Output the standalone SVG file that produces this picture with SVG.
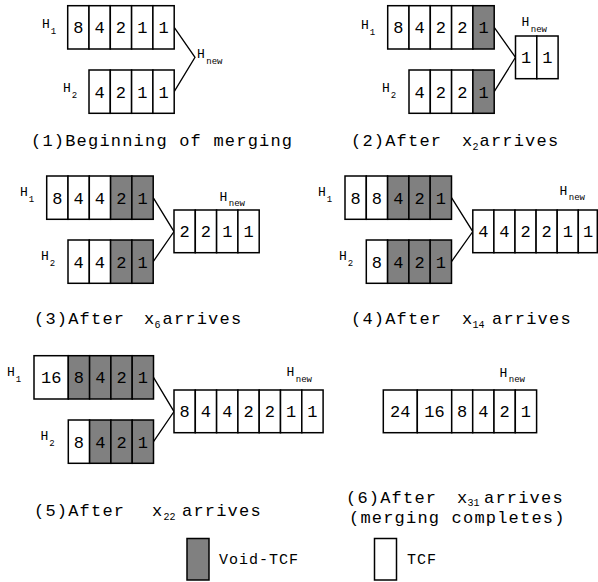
<svg xmlns="http://www.w3.org/2000/svg" width="598" height="582" viewBox="0 0 598 582">
<style>
.c{fill:#fff;stroke:#000;stroke-width:1.5}
.g{fill:#808080;stroke:#000;stroke-width:1.5}
text{font-family:"Liberation Mono","DejaVu Sans Mono",monospace;fill:#000}
.t{font-size:17px;text-anchor:middle}
.h{font-size:13px}
.s{font-size:9px}
.cap{font-size:17px;letter-spacing:1.2px}
.x{letter-spacing:0}
.cs{font-size:10px;letter-spacing:0}
.lg{font-size:15px;letter-spacing:1px}
.con{fill:none;stroke:#000;stroke-width:1.3}
</style>
<rect width="598" height="582" fill="#fff"/>

<g id="connectors">
<path class="con" d="M174.2,27.4 L195,57.3 L174.2,91.6"/>
<path class="con" d="M494.2,27.4 L515.5,57.3 L494.2,91.6"/>
<path class="con" d="M153.2,197.6 L174,231.6 L153.2,261.6"/>
<path class="con" d="M451.5,197.6 L472.8,231.6 L451.5,261.6"/>
<path class="con" d="M153.5,377.3 L174,411.6 L153.5,441.6"/>
</g>

<!-- Panel 1 -->
<g id="p1-h1">
<rect class="c" x="67.7" y="5.7" width="21.3" height="43.3"/>
<rect class="c" x="89" y="5.7" width="21.3" height="43.3"/>
<rect class="c" x="110.3" y="5.7" width="21.3" height="43.3"/>
<rect class="c" x="131.6" y="5.7" width="21.3" height="43.3"/>
<rect class="c" x="152.9" y="5.7" width="21.3" height="43.3"/>
<text class="t" x="78.35" y="33.3">8</text><text class="t" x="99.65" y="33.3">4</text><text class="t" x="120.95" y="33.3">2</text><text class="t" x="142.25" y="33.3">1</text><text class="t" x="163.55" y="33.3">1</text>
<text class="h" x="42" y="28">H<tspan class="s" dx="1" dy="6">1</tspan></text>
</g>
<g id="p1-h2">
<rect class="c" x="89" y="70" width="21.3" height="43.3"/>
<rect class="c" x="110.3" y="70" width="21.3" height="43.3"/>
<rect class="c" x="131.6" y="70" width="21.3" height="43.3"/>
<rect class="c" x="152.9" y="70" width="21.3" height="43.3"/>
<text class="t" x="99.65" y="97.6">4</text><text class="t" x="120.95" y="97.6">2</text><text class="t" x="142.25" y="97.6">1</text><text class="t" x="163.55" y="97.6">1</text>
<text class="h" x="63" y="92">H<tspan class="s" dx="1" dy="6">2</tspan></text>
</g>
<g id="p1-hnew">
<text class="h" x="197" y="58">H<tspan class="s" dx="1.5" dy="6">new</tspan></text>
</g>
<g id="cap1"><text class="cap" x="31" y="146">(1)Beginning of merging</text></g>

<!-- Panel 2 -->
<g id="p2-h1">
<rect class="c" x="387.7" y="5.7" width="21.3" height="43.3"/>
<rect class="c" x="409" y="5.7" width="21.3" height="43.3"/>
<rect class="c" x="430.3" y="5.7" width="21.3" height="43.3"/>
<rect class="c" x="451.6" y="5.7" width="21.3" height="43.3"/>
<rect class="g" x="472.9" y="5.7" width="21.3" height="43.3"/>
<text class="t" x="398.35" y="33.3">8</text><text class="t" x="419.65" y="33.3">4</text><text class="t" x="440.95" y="33.3">2</text><text class="t" x="462.25" y="33.3">2</text><text class="t" x="483.55" y="33.3">1</text>
<text class="h" x="361" y="29">H<tspan class="s" dx="1" dy="6">1</tspan></text>
</g>
<g id="p2-h2">
<rect class="c" x="409" y="70" width="21.3" height="43.3"/>
<rect class="c" x="430.3" y="70" width="21.3" height="43.3"/>
<rect class="c" x="451.6" y="70" width="21.3" height="43.3"/>
<rect class="g" x="472.9" y="70" width="21.3" height="43.3"/>
<text class="t" x="419.65" y="97.6">4</text><text class="t" x="440.95" y="97.6">2</text><text class="t" x="462.25" y="97.6">2</text><text class="t" x="483.55" y="97.6">1</text>
<text class="h" x="382" y="92">H<tspan class="s" dx="1" dy="6">2</tspan></text>
</g>
<g id="p2-hnew">
<rect class="c" x="515.5" y="36" width="21.3" height="42.7"/>
<rect class="c" x="536.8" y="36" width="21.3" height="42.7"/>
<text class="t" x="526.15" y="63.4">1</text><text class="t" x="547.45" y="63.4">1</text>
<text class="h" x="521.5" y="26">H<tspan class="s" dx="1.5" dy="6">new</tspan></text>
</g>
<g id="cap2"><text class="cap" y="146"><tspan x="351">(2)After</tspan><tspan class="x" x="462">x</tspan><tspan class="cs" x="472.5" dy="4">2</tspan><tspan x="479.5" dy="-4">arrives</tspan></text></g>

<!-- Panel 3 -->
<g id="p3-h1">
<rect class="c" x="46.7" y="176" width="21.3" height="43.3"/>
<rect class="c" x="68" y="176" width="21.3" height="43.3"/>
<rect class="c" x="89.3" y="176" width="21.3" height="43.3"/>
<rect class="g" x="110.6" y="176" width="21.3" height="43.3"/>
<rect class="g" x="131.9" y="176" width="21.3" height="43.3"/>
<text class="t" x="57.35" y="203.6">8</text><text class="t" x="78.65" y="203.6">4</text><text class="t" x="99.95" y="203.6">4</text><text class="t" x="121.25" y="203.6">2</text><text class="t" x="142.55" y="203.6">1</text>
<text class="h" x="20" y="196">H<tspan class="s" dx="1" dy="6">1</tspan></text>
</g>
<g id="p3-h2">
<rect class="c" x="68" y="240" width="21.3" height="43.3"/>
<rect class="c" x="89.3" y="240" width="21.3" height="43.3"/>
<rect class="g" x="110.6" y="240" width="21.3" height="43.3"/>
<rect class="g" x="131.9" y="240" width="21.3" height="43.3"/>
<text class="t" x="78.65" y="267.6">4</text><text class="t" x="99.95" y="267.6">4</text><text class="t" x="121.25" y="267.6">2</text><text class="t" x="142.55" y="267.6">1</text>
<text class="h" x="41" y="260">H<tspan class="s" dx="1" dy="6">2</tspan></text>
</g>
<g id="p3-hnew">
<rect class="c" x="174" y="210" width="21.3" height="42.7"/>
<rect class="c" x="195.3" y="210" width="21.3" height="42.7"/>
<rect class="c" x="216.6" y="210" width="21.3" height="42.7"/>
<rect class="c" x="237.9" y="210" width="21.3" height="42.7"/>
<text class="t" x="184.65" y="237.4">2</text><text class="t" x="205.95" y="237.4">2</text><text class="t" x="227.25" y="237.4">1</text><text class="t" x="248.55" y="237.4">1</text>
<text class="h" x="219.5" y="201">H<tspan class="s" dx="1.5" dy="5">new</tspan></text>
</g>
<g id="cap3"><text class="cap" y="324"><tspan x="34">(3)After</tspan><tspan class="x" x="144">x</tspan><tspan class="cs" x="154.5" dy="4">6</tspan><tspan x="162.5" dy="-4">arrives</tspan></text></g>

<!-- Panel 4 -->
<g id="p4-h1">
<rect class="c" x="345" y="176" width="21.3" height="43.3"/>
<rect class="c" x="366.3" y="176" width="21.3" height="43.3"/>
<rect class="g" x="387.6" y="176" width="21.3" height="43.3"/>
<rect class="g" x="408.9" y="176" width="21.3" height="43.3"/>
<rect class="g" x="430.2" y="176" width="21.3" height="43.3"/>
<text class="t" x="355.65" y="203.6">8</text><text class="t" x="376.95" y="203.6">8</text><text class="t" x="398.25" y="203.6">4</text><text class="t" x="419.55" y="203.6">2</text><text class="t" x="440.85" y="203.6">1</text>
<text class="h" x="318" y="196">H<tspan class="s" dx="1" dy="6">1</tspan></text>
</g>
<g id="p4-h2">
<rect class="c" x="366.3" y="240" width="21.3" height="43.3"/>
<rect class="g" x="387.6" y="240" width="21.3" height="43.3"/>
<rect class="g" x="408.9" y="240" width="21.3" height="43.3"/>
<rect class="g" x="430.2" y="240" width="21.3" height="43.3"/>
<text class="t" x="376.95" y="267.6">8</text><text class="t" x="398.25" y="267.6">4</text><text class="t" x="419.55" y="267.6">2</text><text class="t" x="440.85" y="267.6">1</text>
<text class="h" x="339" y="260">H<tspan class="s" dx="1" dy="6">2</tspan></text>
</g>
<g id="p4-hnew">
<rect class="c" x="472.8" y="210" width="21.1" height="42.7"/>
<rect class="c" x="493.9" y="210" width="21.1" height="42.7"/>
<rect class="c" x="515" y="210" width="21.1" height="42.7"/>
<rect class="c" x="536.1" y="210" width="21.1" height="42.7"/>
<rect class="c" x="557.2" y="210" width="21.1" height="42.7"/>
<rect class="c" x="578.3" y="210" width="19" height="42.7"/>
<text class="t" x="483.35" y="237.4">4</text><text class="t" x="504.45" y="237.4">4</text><text class="t" x="525.55" y="237.4">2</text><text class="t" x="546.65" y="237.4">2</text><text class="t" x="567.75" y="237.4">1</text><text class="t" x="588" y="237.4">1</text>
<text class="h" x="559.5" y="195">H<tspan class="s" dx="1.5" dy="5">new</tspan></text>
</g>
<g id="cap4"><text class="cap" y="324"><tspan x="351">(4)After</tspan><tspan class="x" x="462">x</tspan><tspan class="cs" x="472.5" dy="4">14</tspan><tspan x="492" dy="-4">arrives</tspan></text></g>

<!-- Panel 5 -->
<g id="p5-h1">
<rect class="c" x="34" y="355.7" width="34.3" height="43.3"/>
<rect class="g" x="68.3" y="355.7" width="21.3" height="43.3"/>
<rect class="g" x="89.6" y="355.7" width="21.3" height="43.3"/>
<rect class="g" x="110.9" y="355.7" width="21.3" height="43.3"/>
<rect class="g" x="132.2" y="355.7" width="21.3" height="43.3"/>
<text class="t" x="51.15" y="383.3">16</text><text class="t" x="78.95" y="383.3">8</text><text class="t" x="100.25" y="383.3">4</text><text class="t" x="121.55" y="383.3">2</text><text class="t" x="142.85" y="383.3">1</text>
<text class="h" x="7" y="376">H<tspan class="s" dx="1" dy="6">1</tspan></text>
</g>
<g id="p5-h2">
<rect class="c" x="68.3" y="420" width="21.3" height="43.3"/>
<rect class="g" x="89.6" y="420" width="21.3" height="43.3"/>
<rect class="g" x="110.9" y="420" width="21.3" height="43.3"/>
<rect class="g" x="132.2" y="420" width="21.3" height="43.3"/>
<text class="t" x="78.95" y="447.6">8</text><text class="t" x="100.25" y="447.6">4</text><text class="t" x="121.55" y="447.6">2</text><text class="t" x="142.85" y="447.6">1</text>
<text class="h" x="40.5" y="440">H<tspan class="s" dx="1" dy="6">2</tspan></text>
</g>
<g id="p5-hnew">
<rect class="c" x="174" y="390" width="21.3" height="42.7"/>
<rect class="c" x="195.3" y="390" width="21.3" height="42.7"/>
<rect class="c" x="216.6" y="390" width="21.3" height="42.7"/>
<rect class="c" x="237.9" y="390" width="21.3" height="42.7"/>
<rect class="c" x="259.2" y="390" width="21.3" height="42.7"/>
<rect class="c" x="280.5" y="390" width="21.3" height="42.7"/>
<rect class="c" x="301.8" y="390" width="21.3" height="42.7"/>
<text class="t" x="184.65" y="417.4">8</text><text class="t" x="205.95" y="417.4">4</text><text class="t" x="227.25" y="417.4">4</text><text class="t" x="248.55" y="417.4">2</text><text class="t" x="269.85" y="417.4">2</text><text class="t" x="291.15" y="417.4">1</text><text class="t" x="312.45" y="417.4">1</text>
<text class="h" x="286.5" y="376">H<tspan class="s" dx="1.5" dy="5.5">new</tspan></text>
</g>
<g id="cap5"><text class="cap" y="516"><tspan x="34">(5)After</tspan><tspan class="x" x="152">x</tspan><tspan class="cs" x="163.5" dy="4">22</tspan><tspan x="182" dy="-4">arrives</tspan></text></g>

<!-- Panel 6 -->
<g id="p6-hnew">
<rect class="c" x="383.3" y="390" width="34" height="42.7"/>
<rect class="c" x="417.3" y="390" width="34.4" height="42.7"/>
<rect class="c" x="451.7" y="390" width="21" height="42.7"/>
<rect class="c" x="472.7" y="390" width="21.3" height="42.7"/>
<rect class="c" x="494" y="390" width="21.3" height="42.7"/>
<rect class="c" x="515.3" y="390" width="21.3" height="42.7"/>
<text class="t" x="400.3" y="417.4">24</text><text class="t" x="434.5" y="417.4">16</text><text class="t" x="462.2" y="417.4">8</text><text class="t" x="483.35" y="417.4">4</text><text class="t" x="504.65" y="417.4">2</text><text class="t" x="525.95" y="417.4">1</text>
<text class="h" x="499.5" y="376.5">H<tspan class="s" dx="1.5" dy="5.5">new</tspan></text>
</g>
<g id="cap6"><text class="cap" y="502.5"><tspan x="346">(6)After</tspan><tspan class="x" x="457">x</tspan><tspan class="cs" x="467.5" dy="3">31</tspan><tspan x="484" dy="-3">arrives</tspan></text><text class="cap" x="349" y="523">(merging completes)</text></g>

<!-- Legend -->
<g id="legend-void">
<rect class="g" x="187" y="538.5" width="22" height="41.5"/>
<text class="lg" x="219" y="564">Void-TCF</text>
</g>
<g id="legend-tcf">
<rect class="c" x="374.5" y="538.5" width="22" height="41.5"/>
<text class="lg" x="407" y="564">TCF</text>
</g>
</svg>
